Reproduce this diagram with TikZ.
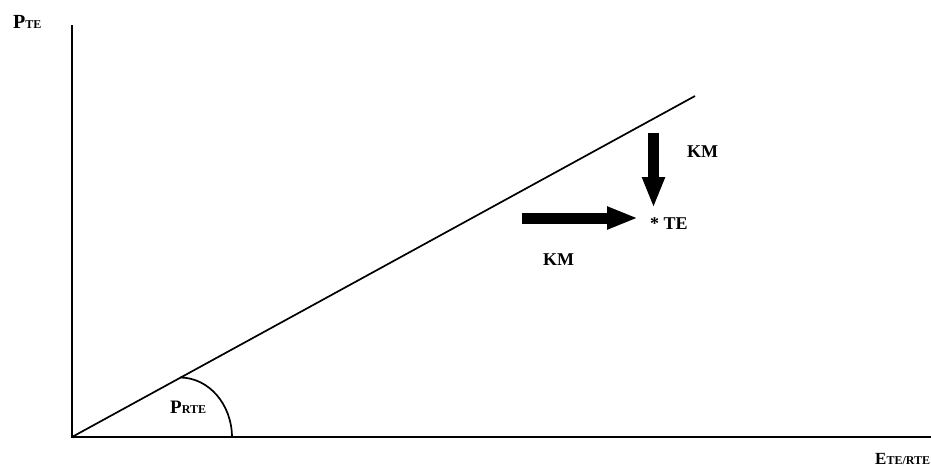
\documentclass[tikz,border=0pt]{standalone}
\usepackage{fontspec}
\setmainfont{Liberation Serif}
\usetikzlibrary{arrows.meta,positioning,calc}

\newcommand{\subcaps}[1]{{\fontsize{12}{13}\selectfont #1}}

\begin{document}
\begin{tikzpicture}[
    x=1pt, y=-1pt,
    axis/.style={line width=2pt, color=black},
    rline/.style={line width=1.7pt, color=black},
    bigarrow/.style={-{Triangle[length=31pt, width=21pt]}, line width=11pt},
    lbl/.style={font=\bfseries\fontsize{18}{20}\selectfont, inner sep=0pt, anchor=base west},
]
    \useasboundingbox (0,0) rectangle (931,466);

    % axes
    \coordinate (o) at (72,437);
    \coordinate (ytop) at (72,25);
    \coordinate (xend) at (931,437);
    \draw[axis] (ytop) -- (o) -- (xend);

    % ray and angle
    \coordinate (rayend) at (695,96);
    \draw[rline] (o) -- (rayend);
    \coordinate (arcstart) at (180,377.5);
    \draw[rline] (arcstart) arc[start angle=90, end angle=0, x radius=52, y radius=-60];

    % axis labels
    \node[lbl, font=\bfseries\fontsize{20}{22}\selectfont] (pte) at (13,28) {P\subcaps{TE}};
    \node[lbl, font=\bfseries\fontsize{19}{21}\selectfont] (prte) at (170,413) {P\subcaps{RTE}};
    \node[lbl, font=\bfseries\fontsize{17}{19}\selectfont] (ete) at (875,464) {E\subcaps{TE/RTE}};

    % point and shifts
    \node[lbl] (te) at (650,229) {* TE};
    \node[lbl] (kmv) at (687,157) {KM};
    \node[lbl] (kmh) at (543,265) {KM};
    \coordinate (hstart) at (522,218);
    \coordinate (hend) at (638,218);
    \coordinate (vstart) at (653.5,133);
    \coordinate (vend) at (653.5,208);
    \draw[bigarrow] (hstart) -- (hend);
    \draw[bigarrow] (vstart) -- (vend);
\end{tikzpicture}
\end{document}
